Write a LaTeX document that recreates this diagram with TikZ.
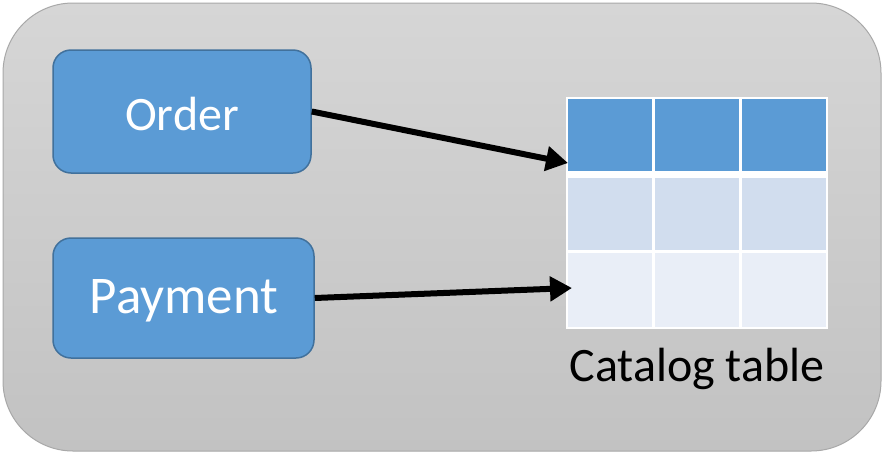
\documentclass[tikz,border=0pt]{standalone}
\usepackage{fontspec}
\setmainfont{Carlito}
\usetikzlibrary{arrows.meta}
\definecolor{panelTop}{HTML}{D6D6D6}
\definecolor{panelBot}{HTML}{C2C2C2}
\definecolor{panelEdge}{HTML}{A8A8A8}
\definecolor{boxFill}{HTML}{5B9BD5}
\definecolor{boxEdge}{HTML}{41719C}
\definecolor{rowMid}{HTML}{D1DDEE}
\definecolor{rowLight}{HTML}{E9EEF7}
\tikzset{
  entity/.style={draw=boxEdge, line width=1.5pt, fill=boxFill, rounded corners=18pt,
    text=white, inner sep=0pt},
  cell/.style={inner sep=0pt, minimum width=84pt},
  link/.style={line width=6pt, -{Triangle[length=22pt,width=24pt]}},
}
\begin{document}
\begin{tikzpicture}[x=1pt,y=-1pt]
  \useasboundingbox (0,0) rectangle (884,453);
  % rounded background panel
  \draw[panelEdge, line width=1pt, top color=panelTop, bottom color=panelBot, rounded corners=70pt]
    (3,3) rectangle (881,451);
  % entity boxes
  \node[entity, minimum width=258pt, minimum height=123pt] (order) at (182,111.5) {};
  \node[text=white, font=\fontsize{48}{54}\selectfont, inner sep=0pt] (orderText) at (182,114) {Order};
  \node[entity, minimum width=261pt, minimum height=120pt] (payment) at (183.5,298) {};
  \node[text=white, font=\fontsize{53}{60}\selectfont, inner sep=0pt] (paymentText) at (184,301) {Payment};
  % catalog table: white frame with three rows of three cells
  \node[fill=white, inner sep=0pt, minimum width=262pt, minimum height=232pt] (table) at (697,213) {};
  \foreach \cx/\c in {610/1, 697/2, 784/3} {
    \node[cell, fill=boxFill, minimum height=72pt] (r1c\c) at (\cx,135) {};
    \node[cell, fill=rowMid, minimum height=72pt] (r2c\c) at (\cx,214) {};
    \node[cell, fill=rowLight, minimum height=74pt] (r3c\c) at (\cx,290) {};
  }
  \node[font=\fontsize{48}{54}\selectfont, inner sep=0pt] (caption) at (697,369) {Catalog table};
  % connectors into the table
  \coordinate (orderIn) at (568,163);
  \coordinate (paymentIn) at (572,288);
  \draw[link] (order.east) -- (orderIn);
  \draw[link] (payment.east) -- (paymentIn);
\end{tikzpicture}
\end{document}
